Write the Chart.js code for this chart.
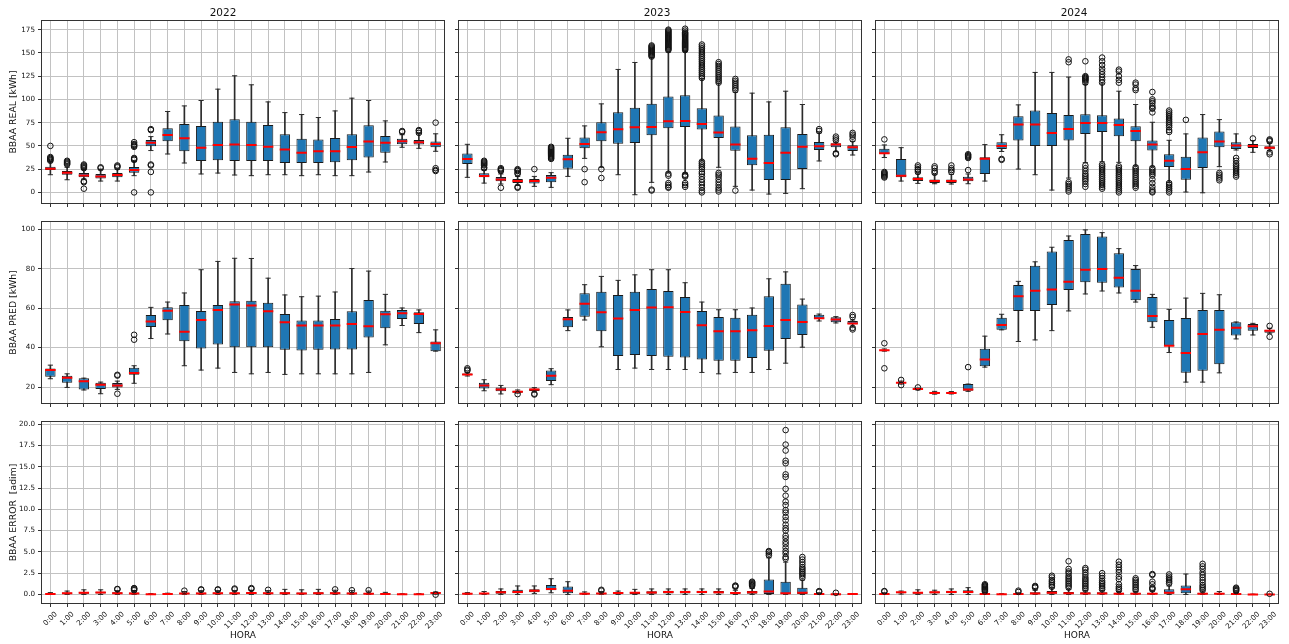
<!DOCTYPE html>
<html><head><meta charset="utf-8">
<script src="https://cdn.jsdelivr.net/npm/chart.js@4.4.1/dist/chart.umd.min.js"></script>
<style>
html,body{margin:0;padding:0;background:#fff;}
body{width:1289px;height:644px;overflow:hidden;position:relative;}
canvas{position:absolute;}
</style>
</head><body>
<script>
// ---------------- DATA ----------------
const HOURS = ['0:00','1:00','2:00','3:00','4:00','5:00','6:00','7:00','8:00','9:00','10:00','11:00','12:00','13:00','14:00','15:00','16:00','17:00','18:00','19:00','20:00','21:00','22:00','23:00'];
const YEARS = ['2022','2023','2024'];
const Y_TITLES = ['BBAA REAL [kWh]','BBAA PRED [kWh]','BBAA ERROR  [adim]'];
const REAL_TICKS = [0,25,50,75,100,125,150,175];
const REAL_TICK_LABELS = ['0','25','50','75','100','125','150','175'];
const PRED_TICKS = [20,40,60,80,100];
const PRED_TICK_LABELS = ['20','40','60','80','100'];
const ERR_TICKS = [0,2.5,5,7.5,10,12.5,15,17.5,20];
const ERR_TICK_LABELS = ['0.0','2.5','5.0','7.5','10.0','12.5','15.0','17.5','20.0'];

// REAL 2022
const R22_Q1  = [24,19,16.2,15,16.2,21.2,49.6,55,44.2,33.8,34.5,33.8,33.8,33.8,31.6,31.6,31.6,32.3,34.5,37.4,42.7,51.7,51.4,48.5];
const R22_MED = [25.5,21,18.3,17.2,18.7,24,53.5,61.8,58.2,48.1,51,51.4,51,49.2,46,42.7,44.2,44.2,48.8,54.6,53.5,55,53.9,52.1];
const R22_Q3  = [27.7,23,20.8,19.8,20.8,27.3,56.4,69,73.6,71.5,76.1,78.7,76.1,72.6,62.5,57.8,56.8,58.5,62.5,72.2,60.7,57.8,56.4,54.6];
const R22_LO  = [19,13.6,14.4,12.2,12.2,18,45,41.3,31.6,19.8,20.8,18.7,18,19,19,18,19,18,18,21.9,32.7,48.5,47.4,44.2];
const R22_HI  = [33,27,25,25,25,33,60,87,93,98.8,111,125.4,115.7,97.3,85.8,83.7,80.5,87.6,101.3,98.8,76.9,62,62.9,63];
const R22_OUT = [[0,[50,38,37,36,35,34]],[1,[34,33,32,31,30]],[2,[30,29,28,27,26,12,11,4]],[3,[27,26]],[4,[29,28,27]],[5,[54,52,51,50,49,37,36,35,0]],[6,[68,67,30,29,22,0]],[21,[66,65]],[22,[67,66,64]],[23,[75,26,24,23]]];

// REAL 2023
const R23_Q1  = [30.5,16.2,11.9,10,9.7,10.8,25.5,47.4,55,52.4,53.2,61.4,69,70.4,67.5,58.5,44.9,29.1,13.3,13.3,25.1,45.6,48.5,44.5];
const R23_MED = [35.9,17.6,14,12.2,12.2,15.8,35.6,52.1,64.7,67.9,70,70.4,76.5,76.9,73.6,64.3,51.4,36.3,31.6,42.7,49.2,49.6,51.4,48.5];
const R23_Q3  = [41.7,20.5,16.5,14.4,14.4,18.7,40.6,58.9,75.4,86.2,90.9,95.2,103,104.5,90.5,82.6,70.8,61.4,62.1,70,62.9,54.2,52.8,50.6];
const R23_LO  = [16.2,10,9,7.5,6.5,5.4,17.2,36.6,27,19,-2.5,10.8,21.6,20.8,34,27,6.5,2.5,-1.8,-1.1,4,33.8,44,40.2];
const R23_HI  = [51.7,24,19.8,17.2,17.2,21.2,58.2,71.5,95.2,132.2,139.7,145,151,152,122,117.5,107.8,106.7,97.3,108.8,94.5,64,54,55];
const R23_OUT = [[1,[34,33,32,31,30,29,27,26]],[2,[26,25,24,23,5]],[3,[25,24,23,21,20,6,5]],[4,[25]],[5,[49,48,47,46,45,44,43,42,41,40,39,38,37,36]],[7,[25,11]],[8,[25,15.5]],
 [11,[158,157,156,155,154,153,152,151,150,149,148,147,146,3,2]],
 [12,[175,174,173,172,171,170,169,168,167,166,165,164,163,162,161,160,159,158,157,156,155,154,153,20,18,10,8,6,5]],
 [13,[176,174,172,171,170,169,168,167,166,165,164,163,162,161,160,159,158,157,156,155,154,153,19,18,17,10,8,6]],
 [14,[159,157,155,153,151,149,147,145,143,141,139,137,135,133,131,129,127,125,123,33,31,29,27,25,22,20,17,14,11,8,5,2,0]],
 [15,[140,138,136,134,132,130,128,126,124,122,120,118,21,19,17,14,11,8,5,3,1]],
 [16,[122,120,118,116,114,112,110,2]],[21,[68,66]],[22,[60,58,56,42,41]],[23,[64,62,60,57]]];

// REAL 2024
const R24_Q1  = [41.3,16.2,12.2,10,10,11.9,19.8,46.7,55.7,50,50,55.7,62.9,65,60.3,55,45,27.3,13.6,26.2,48.5,46.7,47.8,46.3];
const R24_MED = [42,18,14.4,12.2,12.2,14,36.3,50,73,73,64,68.2,74.7,74.7,72.6,66,51.4,34,25.1,43.1,54.6,50.3,50,48.1];
const R24_Q3  = [47,36,16.2,14,14,16.9,37.7,53.9,82,88,85.5,83.3,84,83,79.4,71,55.7,41,38.4,58.9,65.4,53.9,52.1,49.6];
const R24_LO  = [37.5,12.2,9.7,9.3,9,9.3,12.2,44,25.1,19,2.5,15.4,32,33,32.3,28.7,28,11,0.4,-0.4,27.7,45.6,43.1,45];
const R24_HI  = [51,48.1,20,19.4,19.4,19.8,51.4,62,94.1,129,129,124,116,116.7,108.8,94.5,75.4,56,62.9,83.7,78.3,62.9,55.7,53];
const R24_OUT = [[0,[57,22,21,20,19,18,17,16]],[2,[29,27,25,24,22]],[3,[28,26,23,21]],[4,[29,26,24,22]],[5,[41,40,39,38,37,24]],[7,[36,35]],
 [11,[143,140,11,9,7,5,3,1]],[12,[141,125,124,123,122,121,120,118,29,26,23,20,18,16,14,12,9,6]],
 [13,[145,141,137,133,130,127,124,121,118,30,28,26,24,22,20,18,16,14,12,10,8,6,4]],
 [14,[132,130,125,121,118,28,26,24,22,20,18,16,14,12,10,8,6,4,2,0]],
 [15,[118,116,112,110,27,25,23,21,19,17,15,13,11,9,7,5]],
 [16,[108,100,98,96,93,91,90,86,26,24,22,20,18,14,10,6,3,1,0]],
 [17,[88,86,84,82,80,78,76,74,72,70,67,65,10,8,6,4,2,0]],[18,[78]],[20,[21,19,17,15,13]],[21,[37,34,31,29,27,25,23,21,19,17]],[22,[58]],[23,[57,56,55,43,41]]];

// PRED 2022
const P22_Q1  = [25.2,22.2,18.8,19,19.7,26.2,50.5,53.9,43.2,39.5,41.6,40.2,40.2,40.2,38.9,38.5,38.9,39,39,45.1,49.8,54.5,52,38.2];
const P22_MED = [28.6,24.7,22.9,21.2,20.8,27.1,53.2,58.7,48.1,54,59.1,61.8,61.3,58.4,52.8,51.2,51.2,51.2,52,50.8,56.9,57.4,57,42.2];
const P22_Q3  = [29.4,25.7,24.4,22.2,22,29.8,56.5,60.4,61.6,58.6,61.6,63.5,63.8,62.8,57.1,53.7,53.7,54.5,58.4,64.1,58.7,59.1,57.9,43.1];
const P22_LO  = [24.2,19.8,18.5,16.6,18.8,21.9,44.6,46.9,30.8,28.6,29.6,27.4,26.7,27.4,26.4,26.7,26.7,26.7,26.7,27.4,41.4,51.2,47.6,38.2];
const P22_HI  = [31.1,26.7,24.5,22.5,23,30.8,60.4,63.1,67.7,79.5,83.7,85.3,85.2,75.2,66.7,65.8,66.1,68.2,80.1,78.8,67,60.1,59.1,49];
const P22_OUT = [[4,[26.2,25.8,16.6]],[5,[46.5,44]]];

// PRED 2023
const P23_Q1  = [26,19.2,17.8,17.1,18,23,50.3,55.7,48.3,35.7,36.2,35.7,35.3,35,34,33.3,33.3,34.7,38.4,44.3,46.4,54.5,52.8,51.8];
const P23_MED = [26.3,20.8,18.8,17.6,18.8,25.7,54.4,62.3,57.9,54.7,59.1,60.3,60.4,58.1,51.3,48.3,48.3,48.8,51,54,53,54.9,54.2,52.2];
const P23_Q3  = [26.8,22.2,19.7,18.1,19.3,28.4,55.5,67.5,68.3,66.7,68.3,69.7,68.7,65.6,58.6,55.5,55.2,56.7,66,72.4,61.9,56.7,55.4,53.5];
const P23_LO  = [25.6,18.1,16.5,16.9,17.5,21.2,48.6,54,40.4,28.9,29.6,28.9,28.9,28.9,27.4,26.7,27.4,27.4,28.9,32.1,40.2,53.5,52.5,50.5];
const P23_HI  = [27.3,23.7,20.8,18.5,19.7,29.3,59.1,71.9,76.1,74.1,76.9,79.5,79.5,72.9,63.1,59.2,59.2,60.1,74.9,78.4,64.6,57,55.7,54];
const P23_OUT = [[0,[28.3,28.8,29.5]],[3,[16.4]],[4,[16.6,16.2]],[23,[56.5,55.5,50,49.2]]];

// PRED 2024
const P24_Q1  = [38.5,21.9,18.7,16.6,16.7,18.1,30.6,49.1,58.6,58.6,61.6,69.2,73.2,72.9,70.5,64,52.8,40.7,27.2,28.3,31.6,46.1,48.6,47.5];
const P24_MED = [38.7,22.2,19,17,17,18.7,34,51.5,66.1,68.8,69.5,73.4,79.5,79.8,75.4,68.8,56,40.9,37.2,46.9,49.1,50.1,50.8,48.5];
const P24_Q3  = [38.9,22.5,19.3,17.5,17.4,21.5,39.4,55.2,71.7,81.5,88.7,94.6,97.6,96.3,87.9,79.8,65.6,54,55,59.1,59.1,52.8,52,49];
const P24_LO  = [38.2,21.5,18.5,16.4,16.5,17.8,30.1,49,43.1,43.9,48.6,58.6,67.2,68.7,67.7,63.1,50.3,37.5,22.5,22.5,27.2,44.4,46.4,47.3];
const P24_HI  = [39.3,23,19.5,17.8,17.7,21.5,45.8,56.9,73.6,83.5,90.9,96.6,99.7,98.3,90.2,81.6,67,59.4,65.1,67.5,66.8,53,52.3,49.8];
const P24_OUT = [[0,[42.2,29.5]],[1,[23.6,21]],[2,[19.8]],[5,[30.1]],[23,[51,45.5]]];

// ERROR 2022
const E22_Q1  = [0.03,0.08,0.1,0.12,0.08,0.07,0.01,0.02,0.05,0.06,0.06,0.06,0.07,0.06,0.06,0.05,0.06,0.07,0.06,0.04,0.03,0.01,0.01,0.12];
const E22_MED = [0.07,0.15,0.2,0.22,0.15,0.13,0.03,0.05,0.12,0.13,0.14,0.14,0.16,0.14,0.14,0.13,0.14,0.15,0.13,0.1,0.07,0.02,0.03,0.18];
const E22_Q3  = [0.12,0.22,0.3,0.32,0.25,0.22,0.05,0.08,0.2,0.22,0.23,0.23,0.26,0.24,0.25,0.23,0.25,0.25,0.22,0.17,0.12,0.04,0.06,0.25];
const E22_LO  = [0,0,0,0,0,0,0,0,0,0,0,0,0,0,0,0,0,0,0,0,0,0,0,0.03];
const E22_HI  = [0.22,0.4,0.55,0.55,0.45,0.45,0.1,0.15,0.35,0.45,0.45,0.45,0.5,0.45,0.6,0.55,0.6,0.5,0.45,0.4,0.25,0.08,0.1,0.3];
const E22_OUT = [[4,[0.6,0.65]],[5,[0.5,0.6,0.7,0.75]],[8,[0.45]],[9,[0.55,0.6]],[10,[0.55,0.6]],[11,[0.6,0.7]],[12,[0.65,0.75]],[13,[0.55]],[17,[0.6]],[18,[0.5]],[19,[0.5]],[23,[-0.02]]];

// ERROR 2023
const E23_Q1  = [0.05,0.05,0.1,0.15,0.25,0.5,0.15,0.02,0.03,0.05,0.05,0.1,0.12,0.12,0.15,0.12,0.08,0.1,0.05,0,0.05,0.02,0,0.02];
const E23_MED = [0.1,0.12,0.25,0.3,0.45,0.65,0.45,0.1,0.12,0.18,0.2,0.22,0.3,0.3,0.3,0.27,0.18,0.25,0.35,0.15,0.2,0.05,0.02,0.05];
const E23_Q3  = [0.15,0.18,0.4,0.55,0.6,1.1,0.95,0.2,0.2,0.28,0.3,0.38,0.45,0.45,0.45,0.4,0.3,0.4,1.75,1.5,0.8,0.1,0.05,0.07];
const E23_LO  = [0,0,0,0,0.1,0.2,0,0,0,0,0,0,0,0,0,0,0,0,0,0,0,0,0,0];
const E23_HI  = [0.22,0.35,0.65,1.0,1.0,1.85,1.5,0.3,0.35,0.4,0.6,0.65,0.65,0.65,0.65,0.65,0.5,0.7,4.3,3.8,1.7,0.2,0.1,0.1];
const E23_OUT = [[8,[0.45,0.55]],[16,[0.9,1.0,1.05]],[17,[1.0,1.1,1.2,1.3,1.4,1.5]],[18,[4.6,4.8,5.0,5.1]],
 [19,[19.3,17.6,16.9,15.7,15.4,14.1,13.8,12.4,11.6,10.9,10.5,9.9,9.6,9.1,8.7,8.2,7.8,7.5,6.9,6.6,6.2,5.9,5.5,5.1,4.8,4.4,4.2]],
 [20,[1.95,2.2,2.4,2.6,2.8,3.0,3.2,3.5,3.8,4.1,4.4]],[21,[0.3,0.4]],[22,[0.2]]];

// ERROR 2024
const E24_Q1  = [0.03,0.15,0.1,0.12,0.15,0.15,0.02,0,0.02,0.05,0.1,0.06,0.05,0.05,0.04,0.04,0.04,0.1,0.15,0.03,0.05,0.02,0,0];
const E24_MED = [0.06,0.25,0.2,0.25,0.3,0.3,0.07,0.02,0.06,0.12,0.2,0.15,0.12,0.12,0.1,0.1,0.1,0.2,0.6,0.1,0.1,0.05,0.01,0.01];
const E24_Q3  = [0.1,0.3,0.3,0.35,0.45,0.5,0.1,0.05,0.1,0.25,0.4,0.3,0.25,0.25,0.2,0.2,0.2,0.6,1.05,0.2,0.2,0.1,0.02,0.02];
const E24_LO  = [0,0.05,0,0,0,0,0,0,0,0,0,0,0,0,0,0,0,0,0,0,0,0,0,0];
const E24_HI  = [0.2,0.4,0.55,0.5,0.65,0.8,0.2,0.1,0.18,0.5,0.75,0.6,0.45,0.45,0.35,0.35,0.4,1.0,2.4,0.4,0.35,0.2,0.03,0.04];
const E24_OUT = [[0,[0.35,0.4]],[6,[0.35,0.5,0.6,0.7,0.8,0.9,1.0,1.1,1.2]],[8,[0.3,0.45]],[9,[0.8,0.9,1.0]],[10,[0.9,1.1,1.3,1.5,1.7,2.0,2.2]],
 [11,[0.8,1.0,1.2,1.4,1.6,1.8,2.0,2.2,2.5,2.7,3.0,3.9]],[12,[0.6,0.8,1.0,1.2,1.4,1.6,1.8,2.0,2.3,2.6,2.9,3.1]],
 [13,[0.6,0.8,1.0,1.2,1.4,1.6,1.9,2.2,2.5]],[14,[0.5,0.7,0.9,1.2,1.8,2.1,2.6,2.9,3.2,3.5,3.85]],[15,[0.5,0.7,0.9,1.1,1.3,1.5,1.7,1.9]],
 [16,[0.6,0.7,0.8,1.2,1.5,2.3,2.4]],[17,[1.3,1.5,1.7,1.9,2.1,2.35]],[19,[0.5,0.7,0.9,1.1,1.4,1.7,2.0,2.3,2.6,3.0,3.3,3.6]],[21,[0.4,0.5,0.6,0.7,0.8]],[23,[0.08]]];

// ---------------- TABLES BUILT FROM THE DATA ----------------
const mk = (q1,med,q3,lo,hi,out) => ({q1,med,q3,lo,hi,out});
const PANELS = [
  [mk(R22_Q1,R22_MED,R22_Q3,R22_LO,R22_HI,R22_OUT), mk(R23_Q1,R23_MED,R23_Q3,R23_LO,R23_HI,R23_OUT), mk(R24_Q1,R24_MED,R24_Q3,R24_LO,R24_HI,R24_OUT)],
  [mk(P22_Q1,P22_MED,P22_Q3,P22_LO,P22_HI,P22_OUT), mk(P23_Q1,P23_MED,P23_Q3,P23_LO,P23_HI,P23_OUT), mk(P24_Q1,P24_MED,P24_Q3,P24_LO,P24_HI,P24_OUT)],
  [mk(E22_Q1,E22_MED,E22_Q3,E22_LO,E22_HI,E22_OUT), mk(E23_Q1,E23_MED,E23_Q3,E23_LO,E23_HI,E23_OUT), mk(E24_Q1,E24_MED,E24_Q3,E24_LO,E24_HI,E24_OUT)]
];
const ROW_TICKS = [[REAL_TICKS,REAL_TICK_LABELS],[PRED_TICKS,PRED_TICK_LABELS],[ERR_TICKS,ERR_TICK_LABELS]];

// ---------------- LAYOUT / STYLE ----------------
const COL_LEFT = [42, 459, 876];
const ROW_TOP = [21, 221, 421];
const PW = 404, PH = 182;
const Y_RANGES = [[-11.4,184.3],[11.9,103.7],[-1.0,20.25]];
const FONT = 'DejaVu Sans';
const GRID = '#c2c2c2', TICKC = '#333', TXT = '#111';

Chart.defaults.font.family = FONT;
Chart.defaults.color = TXT;

const framePlugin = {
  id: 'frame',
  afterDatasetsDraw(chart) {
    const {ctx, chartArea: a} = chart;
    ctx.save();
    ctx.strokeStyle = '#333';
    ctx.lineWidth = 1;
    ctx.strokeRect(Math.round(a.left) - 0.5, Math.round(a.top) - 0.5,
                   Math.round(a.right - a.left) + 1, Math.round(a.bottom - a.top) + 1);
    ctx.restore();
  }
};

const catW = chart => chart.scales.x.width / HOURS.length;

function makeChart(r, c) {
  const P = PANELS[r][c];
  const ml = c === 0 ? 42 : 8, mr = 3, mt = r === 0 ? 21 : 4, mb = r === 2 ? 41 : 8;
  const cv = document.createElement('canvas');
  cv.width = PW + ml + mr; cv.height = PH + mt + mb;
  cv.style.left = (COL_LEFT[c] - ml) + 'px';
  cv.style.top = (ROW_TOP[r] - mt) + 'px';
  cv.style.width = cv.width + 'px'; cv.style.height = cv.height + 'px';
  document.body.appendChild(cv);

  const caps = [], meds = [], fl = [];
  HOURS.forEach((h, i) => {
    caps.push({x: h, y: P.lo[i]}, {x: h, y: P.hi[i]});
    meds.push({x: h, y: P.med[i]});
  });
  P.out.forEach(([i, vals]) => vals.forEach(v => fl.push({x: HOURS[i], y: v})));

  const [ticks, tickLabels] = ROW_TICKS[r];
  const showX = r === 2, showY = c === 0;

  new Chart(cv, {
    type: 'bar',
    data: {
      labels: HOURS,
      datasets: [
        { type: 'bar', label: 'whisker', data: HOURS.map((h, i) => [P.lo[i], P.hi[i]]),
          backgroundColor: '#2b2b2b', borderWidth: 0, barThickness: 1, grouped: false, order: 6 },
        { type: 'bar', label: 'box', data: HOURS.map((h, i) => [P.q1[i], P.q3[i]]),
          backgroundColor: '#1f77b4', borderColor: '#1a1a1a', borderWidth: 1, borderSkipped: false,
          barPercentage: 0.62, categoryPercentage: 1, grouped: false, order: 5 },
        { type: 'scatter', label: 'caps', data: caps, pointStyle: 'line',
          pointRadius: ctx => catW(ctx.chart) * 0.155, pointBorderColor: '#2b2b2b', pointBorderWidth: 1,
          pointBackgroundColor: 'rgba(0,0,0,0)', order: 4 },
        { type: 'scatter', label: 'median', data: meds, pointStyle: 'line',
          pointRadius: ctx => catW(ctx.chart) * 0.31, pointBorderColor: '#ff0000', pointBorderWidth: 2,
          pointBackgroundColor: 'rgba(0,0,0,0)', order: 3 },
        { type: 'scatter', label: 'fliers', data: fl, pointStyle: 'circle',
          pointRadius: 2.8, pointBorderColor: '#111', pointBorderWidth: 1,
          pointBackgroundColor: 'rgba(0,0,0,0)', order: 2 }
      ]
    },
    options: {
      responsive: false, animation: false, devicePixelRatio: 1, events: [],
      layout: { padding: { top: r === 0 ? 0 : mt, right: mr, left: 0, bottom: 0 } },
      plugins: {
        legend: { display: false }, tooltip: { enabled: false },
        title: { display: r === 0, text: YEARS[c], color: TXT,
                 font: { family: FONT, size: 10.5, weight: 'normal' }, padding: { top: 6.7, bottom: 1.7 } }
      },
      scales: {
        x: {
          type: 'category', labels: HOURS, offset: true,
          grid: { display: true, offset: false, color: GRID, lineWidth: 1, drawTicks: true, tickLength: 4, tickColor: TICKC, tickWidth: 1 },
          border: { display: false },
          ticks: { display: showX, autoSkip: false, maxRotation: 45, minRotation: 45, padding: 3, color: TXT,
                   font: { family: FONT, size: 7.3 },
                   labelOffset: ctx => (HOURS[ctx.index] || '').length > 4 ? 7.3 : 5.8 },
          title: { display: showX, text: 'HORA', color: TXT, font: { family: FONT, size: 9 }, padding: { top: 0, bottom: 3 } },
          afterFit: s => { s.height = mb; s.paddingLeft = 0; s.paddingRight = 0; }
        },
        y: {
          type: 'linear', min: Y_RANGES[r][0], max: Y_RANGES[r][1],
          grid: { display: true, color: GRID, lineWidth: 1, drawTicks: true, tickLength: 4, tickColor: TICKC, tickWidth: 1 },
          border: { display: false },
          afterBuildTicks: s => { s.ticks = ticks.map(v => ({ value: v })); },
          ticks: { display: showY, padding: 3, color: TXT, font: { family: FONT, size: 7.2 },
                   callback: (v, i) => tickLabels[i] },
          title: { display: showY, text: Y_TITLES[r], color: TXT, font: { family: FONT, size: 9.3 }, padding: { top: 8.4, bottom: 0 } },
          afterFit: s => { s.width = ml; s.paddingTop = 0; s.paddingBottom = 0; }
        }
      }
    },
    plugins: [framePlugin]
  });
}

for (let r = 0; r < 3; r++) for (let c = 0; c < 3; c++) makeChart(r, c);
</script>
</body></html>
